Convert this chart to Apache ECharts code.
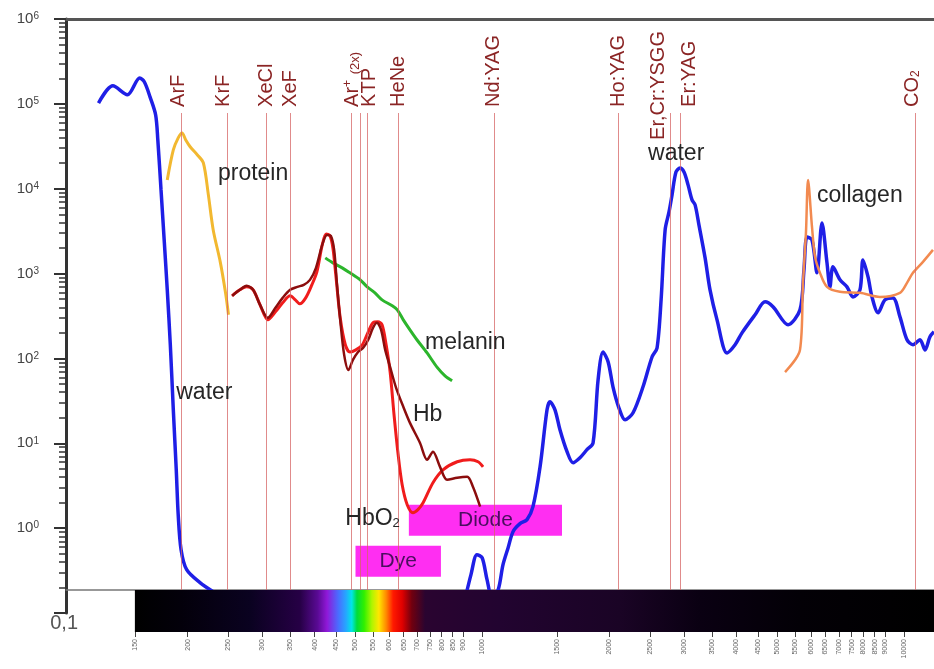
<!DOCTYPE html>
<html><head><meta charset="utf-8">
<script src="https://cdn.jsdelivr.net/npm/echarts@6/dist/echarts.min.js"></script>
<style>html,body{margin:0;padding:0;background:#fff}#c{width:934px;height:669px}</style>
</head><body><div id="c"></div>
<script>
const FONT = "'Liberation Sans', Arial, Helvetica, sans-serif";

// ---- data: wavelength (nm) , absorption coefficient (1/cm) ----
const waterUV = [[123,1.02e5],[133,1.63e5],[144,1.28e5],[154,2.02e5],[158,1.81e5],[163,1.2e5],[168,7.4e4],[170,3.76e4],[173,9680],[176,2490],[179,643],[182,145],[185,24.8],[188,4.87],[190,1.44],[193,0.557],[199,0.324],[214,0.228],[230,0.178]];
const waterIR = [[914,0.164],[939,0.283],[970,0.486],[998,0.448],[1025,0.247],[1053,0.156],[1089,0.188],[1118,0.37],[1150,0.588],[1181,0.908],[1227,1.13],[1275,1.26],[1317,1.79],[1369,5.28],[1422,24.8],[1445,30.8],[1485,24.8],[1526,14.4],[1586,7.96],[1639,5.9],[1702,6.76],[1768,8.4],[1828,10.1],[1879,56],[1930,119],[1985,91],[2038,46.3],[2105,26.2],[2177,18.9],[2274,22.9],[2401,46.3],[2522,104],[2592,133],[2650,490],[2709,3270],[2767,5333],[2813,8455],[2874,15700],[2938,17500],[3003,15700],[3070,11100],[3137,7380],[3190,6446],[3258,3747],[3369,1531],[3461,643],[3596,285],[3798,116],[3968,145],[4121,200],[4426,327],[4673,464],[4880,406],[5298,249],[5655,374],[5779,1106],[5876,2700],[6038,2490],[6205,1020],[6376,3955],[6553,1337],[6660,697],[6770,1200],[7034,843],[7308,697],[7551,531],[7845,643],[7974,1450],[8198,914],[8376,531],[8658,345],[8995,490],[9392,517],[9759,309],[10140,166],[10476,145],[10884,166],[11189,126],[11494,180],[11747,206]];
const protein = [[179,12700],[185,28600],[190,39700],[194,45500],[198,37600],[203,31000],[211,25000],[218,20100],[224,8455],[230,3270],[239,1374],[246,593],[250,327]];
const hbWl  = [255,266,276,286,297,310,323,336,350,364,377,390,403,417,428,437,445,452,460,470,481,493,507,521,536,550,562,575,588,604,624,649,673,711,739,763,793,824,871,920,949,987];
const hbVal = [546,643,717,643,428,301,395,517,643,697,736,843,1168,2175,2856,2780,1900,736,285,110,73,96,119,133,166,229,263,217,126,79,45,26.9,17.4,10.1,6.4,7.96,5.28,3.72,3.93,4.03,3.07,1.79];
const hbo2Wl  = [255,266,276,286,297,310,323,336,350,360,369,381,394,405,417,426,435,442,449,460,473,485,501,519,536,550,565,578,591,604,617,631,645,663,684,703,723,763,806,871,934,976,1003];
const hbo2Val = [546,643,697,643,428,285,354,452,546,490,440,517,736,1048,2175,2934,2780,2005,966,301,145,119,126,145,206,263,270,249,145,69.2,21.7,7.34,3.25,1.89,1.52,1.65,1.99,3.43,4.87,6.06,6.4,6.06,5.28];
const melaninWl  = [424,442,465,485,513,533,556,578,611,628,649,673,699,739,780,815,847];
const melaninVal = [1531,1337,1168,1020,843,697,593,490,417,374,285,217,166,116,79,62.4,54.5];
const collagenWl  = [5212,5655,5748,5842,5909,6038,6139,6307,6553,7034,7845,8750,9759,10140,10476,11064,11684];
const collagenVal = [69,126,777,3015,12700,3550,1573,1020,697,609,593,531,593,777,1020,1374,1900];

const laserLines = [193,248,308,351,488,514,532,633,1064,2100,2780,2940,10600];
const laserLabels = [
  {name:'ArF', wl:193}, {name:'KrF', wl:248}, {name:'XeCl', wl:308}, {name:'XeF', wl:351},
  {name:'Ar+ (2x)', wl:488}, {name:'KTP', wl:532}, {name:'HeNe', wl:633}, {name:'Nd:YAG', wl:1064},
  {name:'Ho:YAG', wl:2100}, {name:'Er,Cr:YSGG', wl:2780}, {name:'Er:YAG', wl:2940}, {name:'CO2', wl:10600}
];
const boxes = [
  {name:'Dye', wl0:500, wl1:797, v0:0.268, v1:0.62},
  {name:'Diode', wl0:669, wl1:1543, v0:0.814, v1:1.89}
];
const annotations = [
  {text:'protein', wl:236, v:14900},
  {text:'water', wl:188, v:39.4},
  {text:'melanin', wl:731, v:153},
  {text:'Hb', wl:684, v:21.7},
  {text:'HbO2', wl:473, v:1.29},
  {text:'water', wl:2468, v:25700},
  {text:'collagen', wl:6205, v:8228}
];
const spectrumTicks = [150,200,250,300,350,400,450,500,550,600,650,700,750,800,850,900,1000,1500,2000,2500,3000,3500,4000,4500,5000,5500,6000,6500,7000,7500,8000,8500,9000,10000];
const yTickValues = [0.1,1,10,100,1000,10000,100000,1000000];

// ---- layout / style constants ----
const XMIN = 103, XMAX = 11750, SPEC_START = 150;
const LASER_TOP = 7.8e4, LASER_LABEL_Y = 9.2e4;
const laserLabelOffset = {'ArF':[-3,0],'KrF':[-4,0],'Ar+ (2x)':[1,0],'KTP':[3,0],'Er,Cr:YSGG':[-11,33],'Er:YAG':[9,0],'CO2':[-3,0]};
const spectrumStops = [[150,'#000000'],[192,'#03000a'],[281,'#0a0220'],[369,'#260045'],[407,'#5a0a95'],[428,'#9018d8'],[455,'#4a6cff'],[475,'#25a8ff'],[490,'#00e6e6'],[504,'#00dc3c'],[524,'#30f000'],[547,'#b0f500'],[568,'#ffe600'],[591,'#ff8a00'],[614,'#ff1a00'],[645,'#e00000'],[680,'#70000f'],[731,'#2a0430'],[1100,'#220430'],[2118,'#1a0425'],[3277,'#0a0012'],[5655,'#030006'],[11750,'#000000']];

const minorTicks = [];
for (let e = -1; e < 6; e++) for (let k = 2; k <= 9; k++) minorTicks.push(k * Math.pow(10, e));

const zip = (a, b) => a.map((x, i) => [x, b[i]]);

function laserRichText(n) {
  if (n === 'Ar+ (2x)') return '{n|Ar}{sup|+}{n| }{sm|(2x)}';
  if (n === 'CO2') return '{n|CO}{sub|2}';
  return '{n|' + n + '}';
}
const laserRich = {
  n:{fontSize:20, fontFamily:FONT, fill:'#8b2525'},
  sup:{fontSize:12, fontFamily:FONT, fill:'#8b2525', verticalAlign:'top'},
  sm:{fontSize:13, fontFamily:FONT, fill:'#8b2525', verticalAlign:'bottom'},
  sub:{fontSize:12, fontFamily:FONT, fill:'#8b2525', verticalAlign:'bottom'}
};
function annText(t) { return t === 'HbO2' ? 'HbO{sub|2}' : t; }

function curve(name, data, color, width, z) {
  return {name, type:'line', xAxisIndex:0, yAxisIndex:0, data, showSymbol:false, smooth:0.3,
    lineStyle:{color, width}, itemStyle:{color}, z, silent:true, emphasis:{disabled:true}};
}

const chart = echarts.init(document.getElementById('c'), null, {renderer:'canvas'});
const option = {
  animation:false,
  backgroundColor:'#fff',
  grid:[
    {left:66, right:0, top:19, bottom:56, containLabel:false, outerBoundsMode:'none'},
    {left:66, right:0, top:590, height:42, containLabel:false, outerBoundsMode:'none'}
  ],
  xAxis:[
    {gridIndex:0, type:'log', min:XMIN, max:XMAX, show:false},
    {gridIndex:0, type:'log', position:'top', min:XMIN, max:XMAX,
      axisLine:{show:true, onZero:false, lineStyle:{color:'#555', width:3}}, axisTick:{show:false}, axisLabel:{show:false}, splitLine:{show:false}},
    {gridIndex:1, type:'log', position:'top', min:XMIN, max:XMAX,
      axisLine:{show:true, onZero:false, lineStyle:{color:'#777', width:1.5}}, axisTick:{show:false}, axisLabel:{show:false}, splitLine:{show:false}},
    {gridIndex:1, type:'log', position:'bottom', min:XMIN, max:XMAX,
      axisLine:{show:false, onZero:false},
      axisTick:{show:true, customValues:spectrumTicks, length:5, lineStyle:{color:'#444', width:1}},
      axisLabel:{show:true, customValues:spectrumTicks, rotate:90, fontSize:7, color:'#666', margin:7, fontFamily:FONT,
        formatter: v => String(Math.round(v))},
      splitLine:{show:false}}
  ],
  yAxis:[
    {gridIndex:0, type:'log', min:0.1, max:1e6, splitNumber:7,
      axisLine:{show:true, onZero:false, lineStyle:{color:'#333', width:3}},
      axisTick:{show:true, customValues:yTickValues, length:12, lineStyle:{color:'#333', width:2}},
      axisLabel:{show:true, customValues:yTickValues.slice(1), margin:27,
        formatter: v => { const e = Math.round(Math.log10(v)); return e < 0 ? '' : '{b|10}{s|' + e + '}'; },
        rich:{b:{fontSize:15, color:'#444', fontFamily:FONT}, s:{fontSize:10, color:'#444', fontFamily:FONT, verticalAlign:'top'}}},
      splitLine:{show:false}},
    {gridIndex:0, type:'log', min:0.1, max:1e6, splitNumber:7, position:'left',
      axisLine:{show:false, onZero:false},
      axisTick:{show:true, customValues:minorTicks, length:7, lineStyle:{color:'#333', width:1.5}},
      axisLabel:{show:true, customValues:[0.1], margin:-12, formatter: () => '{c|0,1}',
        rich:{c:{fontSize:20, color:'#555', fontFamily:FONT, padding:[20,0,0,0]}}},
      splitLine:{show:false}},
    {gridIndex:1, type:'value', min:0, max:1, show:false}
  ],
  series:[
    {type:'line', xAxisIndex:0, yAxisIndex:0, data:[], z:1, silent:true,
      markArea:{silent:true, itemStyle:{color:'#ff2ef2'},
        label:{show:true, position:'inside', fontSize:21, color:'#4a0e5e', fontFamily:FONT},
        emphasis:{disabled:true},
        data: boxes.map(b => [{name:b.name, coord:[b.wl0, b.v1]}, {coord:[b.wl1, b.v0]}])}},
    {type:'line', xAxisIndex:0, yAxisIndex:0, data:[], z:2, silent:true,
      markLine:{silent:true, symbol:['none','none'], label:{show:false}, emphasis:{disabled:true},
        lineStyle:{color:'rgba(214,100,100,0.75)', width:1, type:'solid'},
        data: laserLines.map(w => [{coord:[w, LASER_TOP]}, {coord:[w, 0.1]}])}},
    curve('protein', protein, '#f2b830', 3, 3),
    curve('melanin', zip(melaninWl, melaninVal), '#2cb52c', 3, 3),
    curve('HbO2', zip(hbo2Wl, hbo2Val), '#f01c1c', 3, 3),
    curve('Hb', zip(hbWl, hbVal), '#8c0d0d', 2.5, 3),
    curve('water', waterUV, '#1f1fe6', 3.5, 3),
    curve('water', waterIR, '#1f1fe6', 3.5, 3),
    curve('collagen', zip(collagenWl, collagenVal), '#f28a50', 2.5, 4),
    {type:'custom', xAxisIndex:3, yAxisIndex:2, z:5, silent:true, encode:{x:[0,1]},
      data:[[SPEC_START, XMAX]],
      renderItem(params, api) {
        const a = api.coord([api.value(0), 1]);
        const b = api.coord([api.value(1), 0]);
        const w = b[0] - a[0];
        const stops = spectrumStops.map(s => ({offset: Math.min(1, Math.max(0, (api.coord([s[0], 0])[0] - a[0]) / w)), color: s[1]}));
        return {type:'rect', shape:{x:a[0], y:a[1], width:w, height:b[1]-a[1]},
          style:{fill: new echarts.graphic.LinearGradient(0, 0, 1, 0, stops)}};
      }},
    {type:'line', xAxisIndex:3, yAxisIndex:2, data:[], z:6, silent:true,
      markLine:{silent:true, symbol:['none','none'], label:{show:false}, emphasis:{disabled:true},
        lineStyle:{color:'rgba(160,40,40,0.85)', width:1, type:'solid'},
        data: laserLines.map(w => ({xAxis:w}))}},
    {type:'custom', xAxisIndex:0, yAxisIndex:0, z:7, silent:true,
      data: laserLabels.map(l => [l.wl, LASER_LABEL_Y]),
      renderItem(params, api) {
        const l = laserLabels[params.dataIndex];
        const p = api.coord([api.value(0), api.value(1)]);
        const o = laserLabelOffset[l.name] || [0, 0];
        return {type:'text', x:p[0] + o[0], y:p[1] + o[1], rotation:Math.PI / 2,
          style:{text:laserRichText(l.name), rich:laserRich, fill:'#8b2525', fontSize:20, fontFamily:FONT,
            align:'left', verticalAlign:'middle'}};
      }},
    {type:'custom', xAxisIndex:0, yAxisIndex:0, z:8, silent:true,
      data: annotations.map(a => [a.wl, a.v]),
      renderItem(params, api) {
        const a = annotations[params.dataIndex];
        const p = api.coord([api.value(0), api.value(1)]);
        return {type:'text', x:p[0], y:p[1],
          style:{text:annText(a.text), fill:'#262626', fontSize:23, fontFamily:FONT, align:'left', verticalAlign:'middle',
            rich:{sub:{fontSize:13, fill:'#262626', fontFamily:FONT, verticalAlign:'bottom'}}}};
      }}
  ]
};
chart.setOption(option);
</script></body></html>
